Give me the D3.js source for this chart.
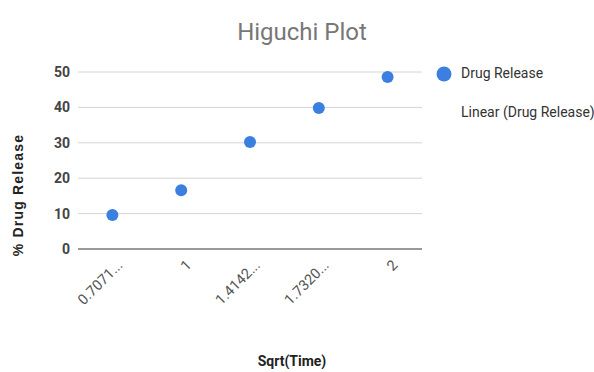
<!DOCTYPE html>
<html><head><meta charset="utf-8">
<script src="https://cdn.jsdelivr.net/npm/d3@7"></script>
<style>body{margin:0;background:#fff}svg{display:block}</style>
</head><body>
<svg id="c" width="594" height="372"></svg>
<script>
const categories = ["0.7071...", "1", "1.4142...", "1.7320...", "2"];
const drugRelease = [9.6, 16.6, 30.2, 39.8, 48.6];
const yTicks = [0, 10, 20, 30, 40, 50];
const title = "Higuchi Plot";
const xLabel = "Sqrt(Time)";
const yLabel = "% Drug Release";
const legendItems = ["Drug Release", "Linear (Drug Release)"];

const svg = d3.select("#c");
const m = {l: 78, r: 422, t: 72, b: 249};
const x = d3.scaleBand().domain(categories).range([m.l, m.r]);
const y = d3.scaleLinear().domain([0, 50]).range([m.b, m.t]);

// gridlines
svg.append("g").selectAll("line").data(yTicks).join("line")
  .attr("x1", m.l).attr("x2", m.r)
  .attr("y1", d => y(d)).attr("y2", d => y(d))
  .attr("stroke", d => d === 0 ? "#777" : "#d4d4d4")
  .attr("stroke-width", d => d === 0 ? 1.6 : 1);

// y tick labels
svg.append("g").selectAll("text").data(yTicks).join("text")
  .attr("x", 70).attr("y", d => y(d)).attr("dy", "0.36em")
  .attr("text-anchor", "end")
  .attr("font-family", "Roboto, sans-serif")
  .attr("font-weight", "bold").attr("font-size", 14).attr("fill", "#444")
  .text(d => d);

// x tick labels
svg.append("g").selectAll("text").data(categories).join("text")
  .attr("transform", d => `translate(${x(d) + x.bandwidth()/2 + 11},${m.b + 17}) rotate(-45)`)
  .attr("text-anchor", "end")
  .attr("font-family", "Roboto, Liberation Sans, sans-serif")
  .attr("font-size", 14.5).attr("fill", "#555")
  .text(d => d);

// points
svg.append("g").selectAll("circle").data(drugRelease).join("circle")
  .attr("cx", (d, i) => x(categories[i]) + x.bandwidth()/2)
  .attr("cy", d => y(d))
  .attr("r", 6)
  .attr("fill", "#3b7fe0");

// title
svg.append("text").attr("x", 302).attr("y", 40).attr("text-anchor", "middle")
  .attr("font-family", "Roboto, Liberation Sans, sans-serif")
  .attr("font-size", 24).attr("fill", "#777").text(title);

// axis titles
svg.append("text").attr("x", 292).attr("y", 366).attr("text-anchor", "middle")
  .attr("font-family", "Roboto, sans-serif")
  .attr("font-weight", "bold").attr("font-size", 14).attr("fill", "#222").text(xLabel);
svg.append("text").attr("transform", "translate(23,195) rotate(-90)").attr("text-anchor", "middle")
  .attr("font-family", "Liberation Sans, Arial, sans-serif")
  .attr("font-weight", "bold").attr("font-size", 14).attr("letter-spacing", 1.2)
  .attr("fill", "#222").text(yLabel);

// legend
svg.append("circle").attr("cx", 444).attr("cy", 74).attr("r", 7.5).attr("fill", "#3b7fe0");
svg.append("g").selectAll("text").data(legendItems).join("text")
  .attr("x", 461).attr("y", (d, i) => 77 + i * 39).attr("dy", "0.1em")
  .attr("font-family", "Roboto, sans-serif")
  .attr("font-size", 14).attr("fill", "#333").text(d => d);
</script>
</body></html>
